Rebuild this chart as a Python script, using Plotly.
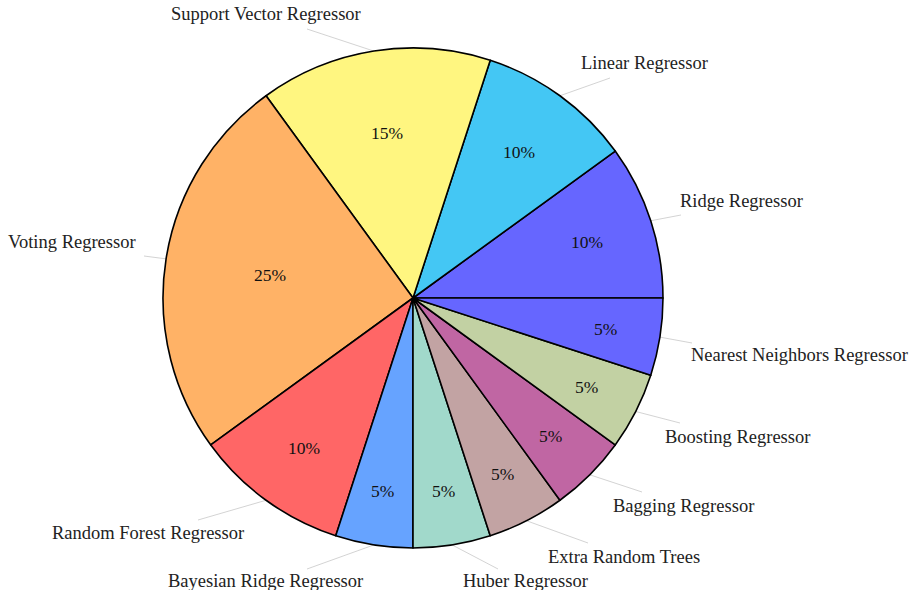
import math
import plotly.graph_objects as go

# ---- data ----
labels = ["Ridge Regressor", "Linear Regressor", "Support Vector Regressor",
          "Voting Regressor", "Random Forest Regressor", "Bayesian Ridge Regressor",
          "Huber Regressor", "Extra Random Trees", "Bagging Regressor",
          "Boosting Regressor", "Nearest Neighbors Regressor"]
values = [10, 10, 15, 25, 10, 5, 5, 5, 5, 5, 5]

# ---- styles / layout ----
colors = ["#6666FF", "#44C7F4", "#FFF680", "#FFB266", "#FF6666", "#66A3FF",
          "#A1D9CB", "#C2A3A3", "#C066A3", "#C2D1A3", "#6666FF"]
W, H = 910, 590
CX, CY, R = 413, 298, 250
FONT = "Liberation Serif"
# radial position (fraction of radius) of each percentage text
pct_radius = [0.73, 0.72, 0.67, 0.58, 0.74, 0.78, 0.78, 0.79, 0.78, 0.78, 0.78]
# leader line end points and label text centres (pixel coords)
line_ends = [(681, 215), (610, 78), (307, 29), (144, 256), (198, 520), (307, 569),
             (498, 569), (588, 543), (642, 492), (680, 423), (692, 343)]
text_centres = [(741, 201), (644, 63), (266, 14), (72, 242), (148, 533), (265, 581),
                (525, 581), (624, 557), (683, 506), (737, 437), (799, 355)]

total = sum(values)
fig = go.Figure()
fig.add_trace(go.Pie(
    labels=labels, values=values, sort=False, direction="counterclockwise",
    rotation=90 - values[0] / total * 360, textinfo="none",
    marker=dict(colors=colors, line=dict(color="black", width=1.6)),
    domain=dict(x=[(CX - R) / W, (CX + R) / W], y=[(H - CY - R) / H, (H - CY + R) / H]),
    showlegend=False, hoverinfo="label+percent",
))

# leader lines: from slice edge at mid-angle (computed from data) to label
xs, ys = [], []
cum = 0
for i, v in enumerate(values):
    mid = (cum + v / 2) / total * 2 * math.pi
    cum += v
    xs += [CX + R * math.cos(mid), line_ends[i][0], None]
    ys += [CY - R * math.sin(mid), line_ends[i][1], None]
    rp = pct_radius[i] * R
    fig.add_annotation(x=CX + rp * math.cos(mid), y=CY - rp * math.sin(mid),
                       xref="x", yref="y", text=f"{v / total * 100:.0f}%",
                       showarrow=False, xanchor="center", yanchor="middle",
                       font=dict(family=FONT, size=17.5, color="#111111"))
fig.add_trace(go.Scatter(x=xs, y=ys, mode="lines", line=dict(color="#c8c8c8", width=0.8),
                         hoverinfo="skip", showlegend=False))

for lab, (tx, ty) in zip(labels, text_centres):
    fig.add_annotation(x=tx, y=ty, xref="x", yref="y", text=lab, showarrow=False,
                       xanchor="center", yanchor="middle",
                       font=dict(family=FONT, size=18.5, color="#222222"))

fig.update_layout(
    width=W, height=H, margin=dict(l=0, r=0, t=0, b=0),
    paper_bgcolor="white", plot_bgcolor="rgba(0,0,0,0)",
    xaxis=dict(range=[0, W], visible=False, fixedrange=True),
    yaxis=dict(range=[H, 0], visible=False, fixedrange=True),
)
fig.write_html("out.html", config={"displayModeBar": False},
               post_script="document.body.style.margin='0px';")
